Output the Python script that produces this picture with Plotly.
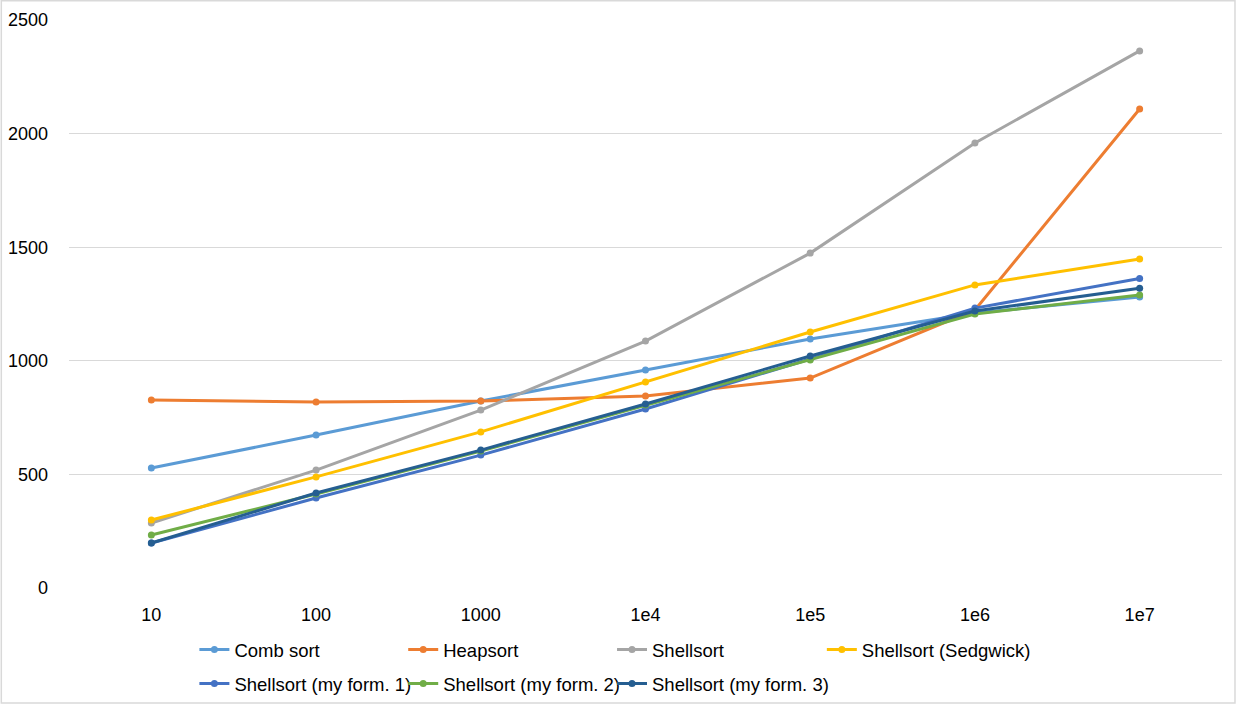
import plotly.graph_objects as go

categories = ["10", "100", "1000", "1e4", "1e5", "1e6", "1e7"]

comb_sort = [528, 673, 823, 960, 1096, 1210, 1281]
heapsort = [827, 819, 823, 845, 924, 1224, 2108]
shellsort = [286, 519, 783, 1087, 1474, 1959, 2364]
shellsort_sedgwick = [299, 489, 687, 907, 1127, 1334, 1448]
shellsort_my1 = [198, 396, 585, 788, 1008, 1232, 1362]
shellsort_my2 = [233, 414, 603, 805, 1004, 1206, 1290]
shellsort_my3 = [198, 418, 607, 810, 1021, 1219, 1319]

series_names = ["Comb sort", "Heapsort", "Shellsort", "Shellsort (Sedgwick)",
                "Shellsort (my form. 1)", "Shellsort (my form. 2)", "Shellsort (my form. 3)"]
series_values = [comb_sort, heapsort, shellsort, shellsort_sedgwick,
                 shellsort_my1, shellsort_my2, shellsort_my3]
colors = ["#5B9BD5", "#ED7D31", "#A5A5A5", "#FFC000", "#4472C4", "#70AD47", "#255E91"]

y_ticks = [0, 500, 1000, 1500, 2000, 2500]

FONT = "Liberation Sans, Arial, sans-serif"

W, H = 1237, 704
ML, MR, MT, MB = 68.5, 14.5, 20, 116
PW, PH = W - ML - MR, H - MT - MB

# legend grid (pixel layout of the Excel-style legend: 4 columns, 2 rows)
leg_col_px = [194, 403, 612, 822]
leg_row_px = [650, 684]

fig = go.Figure()
layout_legends = {}
for i, (name, vals, col) in enumerate(zip(series_names, series_values, colors)):
    key = "legend" if i == 0 else f"legend{i + 1}"
    fig.add_trace(go.Scatter(
        x=categories, y=vals, name=name, mode="lines+markers",
        line=dict(color=col, width=3),
        marker=dict(color=col, size=7),
        legend=key,
    ))
    r, c = divmod(i, 4)
    layout_legends[key] = dict(
        orientation="h",
        x=(leg_col_px[c] - ML) / PW, xanchor="left",
        y=(MT + PH - leg_row_px[r]) / PH, yanchor="middle",
        itemwidth=30, font=dict(size=18.5, family=FONT, color="#000000"),
        bgcolor="rgba(0,0,0,0)", borderwidth=0,
    )

fig.update_layout(
    width=W, height=H,
    margin=dict(l=ML, r=MR, t=MT, b=MB, autoexpand=False),
    paper_bgcolor="white", plot_bgcolor="white",
    font=dict(family=FONT, size=18, color="#000000"),
    showlegend=True,
    xaxis=dict(
        type="category", categoryorder="array", categoryarray=categories,
        range=[-0.5, 6.5], showgrid=False, zeroline=False, showline=False,
        ticks="", ticklabelstandoff=14,
    ),
    yaxis=dict(
        range=[0, 2500], tickvals=y_ticks, showgrid=True, gridcolor="#D9D9D9",
        gridwidth=1, zeroline=False, showline=False, ticks="",
        ticklabelstandoff=20,
    ),
    shapes=[dict(type="rect", xref="paper", yref="paper",
                 x0=(0.75 - ML) / PW, x1=(1235.5 - ML) / PW,
                 y0=(MT + PH - 703) / PH, y1=(MT + PH - 0.75) / PH,
                 line=dict(color="#D9D9D9", width=1.5), layer="below")],
    **layout_legends,
)

fig.write_html(
    "out.html",
    config={"displayModeBar": False},
    post_script="document.body.style.margin='0';document.body.style.overflow='hidden';",
)
